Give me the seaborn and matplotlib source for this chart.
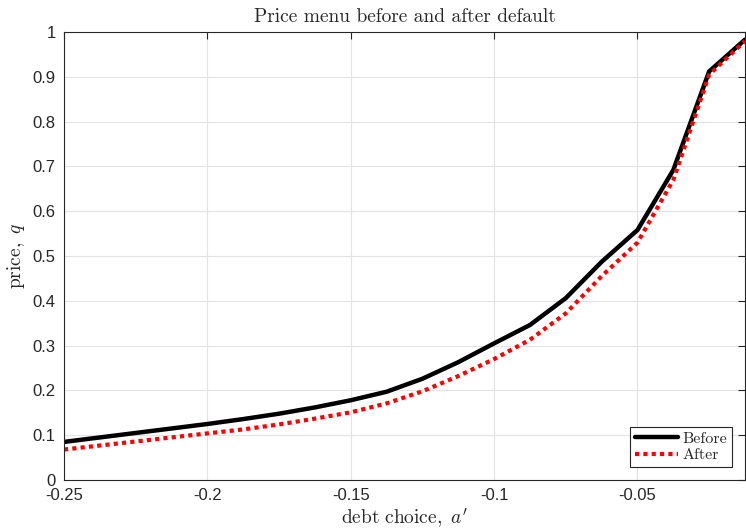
import numpy as np
import pandas as pd
import matplotlib
matplotlib.use("Agg")
import matplotlib.pyplot as plt
import seaborn as sns

debt = [-0.25, -0.2375, -0.225, -0.2125, -0.2, -0.1875, -0.175, -0.1625, -0.15, -0.1375,
        -0.125, -0.1125, -0.1, -0.0875, -0.075, -0.0625, -0.05, -0.0375, -0.025, -0.0125]
price_before = [0.085, 0.095, 0.105, 0.115, 0.125, 0.136, 0.148, 0.162, 0.178, 0.197,
                0.226, 0.263, 0.305, 0.346, 0.406, 0.487, 0.558, 0.692, 0.912, 0.983]
price_after = [0.068, 0.077, 0.086, 0.095, 0.104, 0.113, 0.124, 0.137, 0.151, 0.171,
               0.198, 0.232, 0.270, 0.313, 0.372, 0.455, 0.530, 0.670, 0.905, 0.980]
xticks = [-0.25, -0.2, -0.15, -0.1, -0.05]
xtick_labels = ["-0.25", "-0.2", "-0.15", "-0.1", "-0.05"]
yticks = [0, 0.1, 0.2, 0.3, 0.4, 0.5, 0.6, 0.7, 0.8, 0.9, 1]
ytick_labels = ["0", "0.1", "0.2", "0.3", "0.4", "0.5", "0.6", "0.7", "0.8", "0.9", "1"]

sns.set_style("white")
plt.rcParams["font.family"] = ["Liberation Sans", "DejaVu Sans"]
plt.rcParams["mathtext.fontset"] = "cm"

df_b = pd.DataFrame({"x": debt, "y": price_before})
df_a = pd.DataFrame({"x": debt, "y": price_after})

fig = plt.figure(figsize=(7.46, 5.31), dpi=100)
ax = fig.add_axes([64/746, 51/531, (745-64)/746, 448/531])

sns.lineplot(data=df_b, x="x", y="y", ax=ax, color="black", linewidth=3.2,
             label="Before", estimator=None, sort=False)
sns.lineplot(data=df_a, x="x", y="y", ax=ax, color="red", linewidth=3.0,
             linestyle=(0, (1, 1)), label="After", estimator=None, sort=False)

ax.set_xlim(-0.25, -0.0125)
ax.set_ylim(0, 1)
ax.set_xticks(xticks)
ax.set_xticklabels(xtick_labels)
ax.set_yticks(yticks)
ax.set_yticklabels(ytick_labels)
ax.tick_params(direction="in", top=True, right=True, length=5, width=0.8,
               labelsize=12, colors="#262626", pad=6)
ax.grid(True, color="#e3e3e3", linewidth=0.8)
for s in ax.spines.values():
    s.set_color("#262626")
    s.set_linewidth(0.8)

ax.set_title("Price menu before and after default", fontfamily="cmr10", fontsize=14, pad=7)
ax.set_xlabel(r"$\mathrm{debt\ choice,}\ a'$", fontsize=14, labelpad=2.5)
ax.set_ylabel(r"$\mathrm{price,}\ q$", fontsize=14, labelpad=4)

leg = ax.legend(loc="lower right", fancybox=False, framealpha=1, edgecolor="#262626",
                prop={"family": "cmr10", "size": 11.5}, handlelength=2.7, borderpad=0.3,
                labelspacing=0.15, handletextpad=0.3, borderaxespad=0.8)
leg.get_frame().set_linewidth(0.8)

fig.savefig("out.png", dpi=100)
